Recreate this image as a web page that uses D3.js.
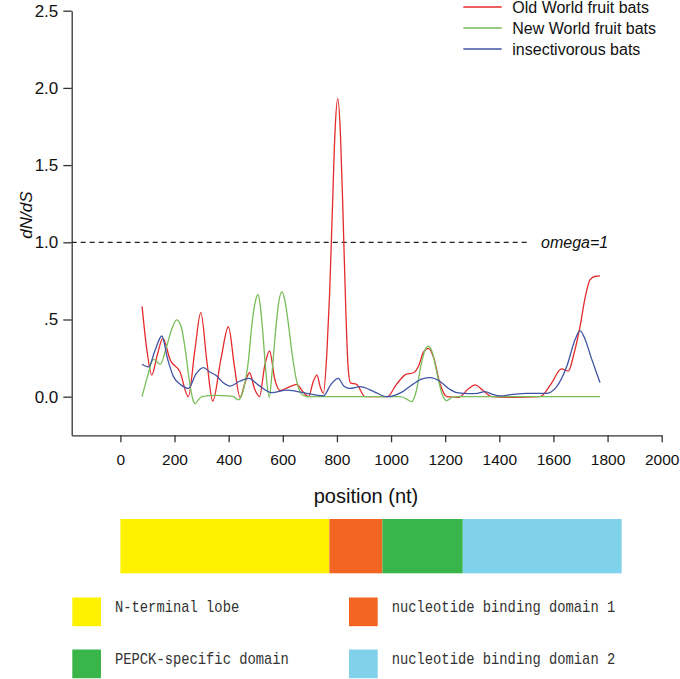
<!DOCTYPE html>
<html><head><meta charset="utf-8">
<script src="https://cdn.jsdelivr.net/npm/d3@7"></script>
<style>body{margin:0;background:#fff}</style>
</head><body>
<svg id="c" width="680" height="679"></svg>
<script>
// ---- data ----
const seriesNames = ["Old World fruit bats", "New World fruit bats", "insectivorous bats"];
const oldWorld = [[80,0.585],[98,0.3],[116,0.14],[136,0.27],[157,0.378],[184,0.238],[220,0.162],[251,0.0],[275,0.3],[297,0.544],[320,0.22],[341,-0.028],[372,0.25],[399,0.453],[421,0.2],[442,-0.005],[462,0.1],[477,0.155],[496,0.05],[514,0.0],[533,0.2],[551,0.296],[571,0.108],[590,0.04],[620,0.06],[652,0.08],[675,0.03],[695,0.0],[713,0.1],[726,0.14],[739,0.06],[750,0.022],[763,0.29],[773,0.67],[783,1.2],[793,1.72],[803,1.93],[813,1.7],[823,1.15],[833,0.55],[841,0.2],[850,0.09],[873,0.08],[904,0.0],[950,0.0],[986,0.0],[1020,0.08],[1055,0.145],[1083,0.155],[1102,0.2],[1120,0.29],[1138,0.313],[1158,0.25],[1180,0.09],[1206,0.0],[1249,-0.005],[1285,0.05],[1310,0.076],[1340,0.04],[1372,0.0],[1450,-0.005],[1551,0.0],[1590,0.08],[1630,0.18],[1655,0.166],[1676,0.28],[1698,0.453],[1718,0.65],[1735,0.756],[1755,0.78],[1772,0.782]];
const newWorld = [[80,0.0],[100,0.13],[122,0.242],[147,0.21],[170,0.32],[190,0.44],[208,0.497],[225,0.45],[240,0.3],[255,0.1],[268,-0.02],[276,-0.045],[288,-0.02],[301,0.0],[350,0.008],[396,0.005],[418,0.0],[436,-0.02],[455,0.05],[472,0.22],[488,0.5],[499,0.62],[508,0.662],[516,0.6],[526,0.42],[538,0.15],[550,-0.004],[560,0.15],[572,0.4],[584,0.6],[596,0.678],[608,0.62],[620,0.48],[635,0.27],[650,0.11],[668,0.02],[688,0.0],[1033,0.0],[1055,-0.012],[1076,-0.032],[1095,0.05],[1110,0.2],[1125,0.3],[1138,0.328],[1152,0.29],[1170,0.15],[1190,0.01],[1206,-0.026],[1225,-0.005],[1250,0.0],[1772,0.0]];
const insectivorous = [[80,0.21],[104,0.193],[128,0.3],[153,0.393],[175,0.24],[196,0.13],[225,0.075],[251,0.054],[280,0.15],[307,0.188],[330,0.16],[356,0.134],[380,0.09],[405,0.069],[440,0.1],[475,0.119],[510,0.075],[559,0.026],[615,0.043],[650,0.035],[688,0.022],[750,0.005],[778,0.08],[805,0.119],[825,0.07],[848,0.054],[885,0.065],[940,0.03],[984,0.0],[1040,0.03],[1080,0.08],[1115,0.115],[1145,0.123],[1180,0.1],[1215,0.05],[1243,0.026],[1290,0.02],[1320,0.022],[1347,0.033],[1375,0.015],[1403,0.005],[1450,0.015],[1501,0.022],[1575,0.022],[1610,0.06],[1650,0.2],[1680,0.37],[1698,0.428],[1715,0.38],[1740,0.25],[1772,0.091]];
const xTicks = [0,200,400,600,800,1000,1200,1400,1600,1800,2000];
const yTicks = [0,0.5,1,1.5,2,2.5];
const yTickLabels = ["0.0",".5","1.0","1.5","2.0","2.5"];
const omegaValue = 1;
const omegaLabel = "omega=1";
const domainNames = ["N-terminal lobe","nucleotide binding domain 1","PEPCK-specific domain","nucleotide binding domian 2"];
const domainStarts = [0,772,968,1265];
const domainEnds = [772,968,1265,1852];

// ---- styles ----
const lineColors = ["#e42b2b","#78bd57","#3f55a5"];
const domainColors = ["#fff200","#f26522","#39b54a","#80d1ea"];
const sans = "'Liberation Sans', Arial, sans-serif";

const svg = d3.select("#c");
const x = d3.scaleLinear().domain([-180,2000]).range([71.7,661.7]);
const y = d3.scaleLinear().domain([-0.25,2.5]).range([435.3,10.7]);

// axes
const gx = svg.append("g").attr("transform","translate(0,435.3)")
  .call(d3.axisBottom(x).tickValues(xTicks).tickFormat(d3.format("d")).tickSize(7).tickSizeOuter(0).tickPadding(12));
gx.selectAll("text").attr("font-size",15.5).attr("font-family",sans).attr("fill","#111");
const gy = svg.append("g").attr("transform","translate(71.7,0)")
  .call(d3.axisLeft(y).tickValues(yTicks).tickFormat((d,i)=>yTickLabels[i]).tickSize(8.4).tickSizeOuter(0).tickPadding(5));
gy.selectAll("text").attr("font-size",17).attr("font-family",sans).attr("fill","#111");
svg.selectAll(".domain, .tick line").attr("stroke","#333").attr("stroke-width",1.3);

// axis titles
svg.append("text").attr("x",366).attr("y",503).attr("text-anchor","middle")
  .attr("font-family",sans).attr("font-size",20).attr("fill","#111").text("position (nt)");
svg.append("text").attr("transform","translate(32,215) rotate(-90)").attr("text-anchor","middle")
  .attr("font-family",sans).attr("font-size",17).attr("font-style","italic").attr("fill","#111").text("dN/dS");

// omega line
svg.append("line").attr("x1",x(-180)).attr("x2",x(1515)).attr("y1",y(omegaValue)).attr("y2",y(omegaValue))
  .attr("stroke","#222").attr("stroke-width",1.2).attr("stroke-dasharray","5,4");
svg.append("text").attr("x",541).attr("y",y(omegaValue)+6).attr("font-family",sans).attr("font-size",16)
  .attr("font-style","italic").attr("fill","#111").text(omegaLabel);

// curves
const line = d3.line().x(d=>x(d[0])).y(d=>y(d[1])).curve(d3.curveMonotoneX);
[oldWorld,newWorld,insectivorous].forEach((s,i)=>{
  svg.append("path").datum(s).attr("d",line).attr("fill","none")
    .attr("stroke",lineColors[i]).attr("stroke-width",1.3);
});

// legend (lines)
const legendY = [7,28,49];
seriesNames.forEach((n,i)=>{
  svg.append("line").attr("x1",463.3).attr("x2",501.7).attr("y1",legendY[i]).attr("y2",legendY[i])
    .attr("stroke",lineColors[i]).attr("stroke-width",1.3);
  svg.append("text").attr("x",512.3).attr("y",legendY[i]+5.7).attr("font-family",sans)
    .attr("font-size",16).attr("fill","#111").text(n);
});

// domain bar
domainNames.forEach((n,i)=>{
  svg.append("rect").attr("x",x(domainStarts[i])).attr("width",x(domainEnds[i])-x(domainStarts[i]))
    .attr("y",519).attr("height",54.3).attr("fill",domainColors[i]);
});

// domain legend
const colX = [72.3,349], rowY = [597.5,649.5], textX = [115,391.7], textBase = [611.7,664.3];
domainNames.forEach((n,i)=>{
  const c = i%2, r = Math.floor(i/2);
  svg.append("rect").attr("x",colX[c]).attr("y",rowY[r]).attr("width",28.7).attr("height",28.7)
    .attr("fill",domainColors[i]);
  svg.append("text").attr("x",textX[c]).attr("y",textBase[r])
    .attr("font-family","'Liberation Mono', 'Courier New', monospace").attr("font-size",17)
    .attr("fill","#333").attr("textLength",n.length*8.28).attr("lengthAdjust","spacingAndGlyphs").text(n);
});
</script>
</body></html>
